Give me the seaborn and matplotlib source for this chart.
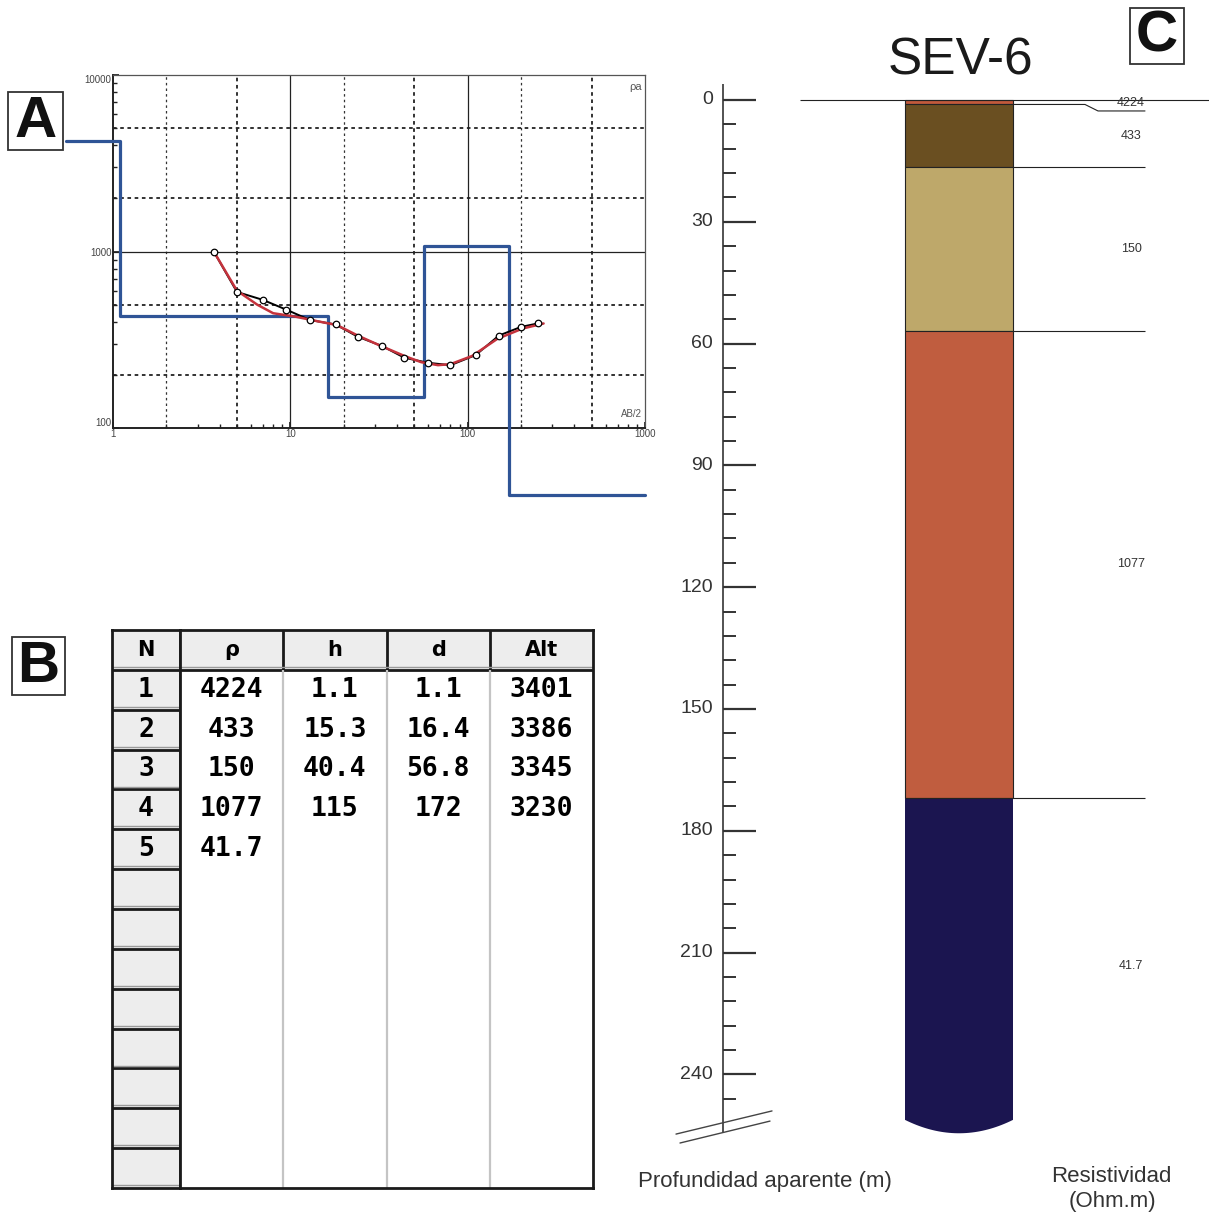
import numpy as np
import pandas as pd
import matplotlib.pyplot as plt
import seaborn as sns
from matplotlib.colors import ListedColormap
from matplotlib.patches import Rectangle, Polygon
from matplotlib.ticker import LogLocator, NullFormatter

sns.set_theme(style="white")
plt.rcParams['font.family'] = ['Liberation Sans', 'DejaVu Sans']

# --- Curva de campo (resistividad aparente vs AB/2) ---
ab2 = [3.7, 5.0, 7.0, 9.5, 12.9, 18, 24, 33, 44, 60, 80, 111, 150, 200, 248]
rho_a = [1000, 590, 532, 468, 409, 386, 329, 291, 250, 234, 227, 259, 334, 374, 391]

# --- Curva teórica del modelo ---
ab2_fit = [3.7, 5.0, 6.5, 8.0, 10.6, 14.7, 18.3, 24, 31.6, 44, 54.7, 68, 80, 106, 147, 204, 268]
rho_fit = [1000, 600, 500, 447, 428, 400, 383, 334, 295, 256, 236, 227, 230, 256, 320, 366, 391]

# --- Modelo de capas ---
capas = [1, 2, 3, 4, 5]
rho = [4224, 433, 150, 1077, 41.7]
esp = [1.1, 15.3, 40.4, 115]
prof = [1.1, 16.4, 56.8, 172]
alt = [3401, 3386, 3345, 3230]
colores = ['#c25a3c', '#6a4f21', '#bea86a', '#c05d3f', '#1b1550']

W, H = 1209, 1214
fig = plt.figure(figsize=(W / 100, H / 100), dpi=100)


def caja(x0, y0, x1, y1):
    # pixeles -> fraccion de figura
    return [x0 / W, 1 - y1 / H, (x1 - x0) / W, (y1 - y0) / H]


# ================= A: curva de sondeo =================
axA = fig.add_axes(caja(113, 75, 645, 428))
axA.set_xscale('log')
axA.set_yscale('log')
axA.set_xlim(1, 1000)
axA.set_ylim(100, 10000)

for v in [2, 20, 200]:
    axA.axvline(v, color='#333333', lw=0.9, ls=(0, (2, 2.5)), zorder=1)
for v in [5, 50, 500]:
    axA.axvline(v, color='#222222', lw=1.3, ls=(0, (2, 2)), zorder=1)
for v in [200, 500, 2000, 5000]:
    axA.axhline(v, color='#222222', lw=1.3, ls=(0, (2, 2)), zorder=1)
for v in [10, 100]:
    axA.axvline(v, color='#222222', lw=0.9, zorder=1)
axA.axhline(1000, color='#222222', lw=0.9, zorder=1)

# modelo escalonado
step_x = [0.54]
step_y = [rho[0]]
for i, z in enumerate(prof):
    step_x += [z, z]
    step_y += [rho[i], rho[i + 1]]
step_x.append(1000)
step_y.append(rho[-1])
sns.lineplot(x=step_x, y=step_y, sort=False, estimator=None, ax=axA,
             color='#2f5496', lw=2.3, clip_on=False, zorder=3)

sns.lineplot(x=ab2, y=rho_a, sort=False, estimator=None, ax=axA,
             color='black', lw=1.4, zorder=4)
sns.lineplot(x=ab2_fit, y=rho_fit, sort=False, estimator=None, ax=axA,
             color='#c4323c', lw=1.8, zorder=5)
sns.scatterplot(x=ab2, y=rho_a, ax=axA, color='white', edgecolor='black',
                s=22, linewidth=0.9, zorder=6)

axA.set_xticks([1, 10, 100, 1000])
axA.set_xticklabels(['1', '10', '100', '1000'])
axA.set_yticks([100, 1000, 10000])
axA.set_yticklabels(['100', '1000', '10000'])
axA.xaxis.set_minor_locator(LogLocator(base=10, subs=range(2, 10), numticks=20))
axA.yaxis.set_minor_locator(LogLocator(base=10, subs=range(2, 10), numticks=20))
axA.xaxis.set_minor_formatter(NullFormatter())
axA.yaxis.set_minor_formatter(NullFormatter())
axA.tick_params(which='both', bottom=True, left=True, direction='in',
                colors='#222222', labelsize=7, labelcolor='#444444', pad=1)
axA.tick_params(which='major', length=4)
axA.tick_params(which='minor', length=3)
ylabs = axA.get_yticklabels()
ylabs[0].set_va('bottom')
ylabs[-1].set_va('top')
for s in ['left', 'bottom']:
    axA.spines[s].set_color('#222222')
    axA.spines[s].set_linewidth(1.4)
for s in ['top', 'right']:
    axA.spines[s].set_color('#555555')
    axA.spines[s].set_linewidth(0.9)
axA.text(0.995, 0.965, 'ρa', transform=axA.transAxes, ha='right', va='center',
         fontsize=8, color='#555555')
axA.text(0.995, 0.04, 'AB/2', transform=axA.transAxes, ha='right', va='center',
         fontsize=7, color='#555555')

# ================= B: tabla del modelo =================
n_filas = 13
encab = ['ρ', 'h', 'd', 'Alt']
tabla = [['' for _ in range(4)] for _ in range(n_filas)]
for i, r in enumerate(rho):
    tabla[i][0] = f'{r:g}'
for i in range(len(esp)):
    tabla[i][1] = f'{esp[i]:g}'
    tabla[i][2] = f'{prof[i]:g}'
    tabla[i][3] = f'{alt[i]}'
etiq = np.array([encab] + tabla)
fondo = np.zeros((n_filas + 1, 4))
fondo[0] = 1

etiq_n = np.array([['N']] + [[str(c)] for c in capas] + [['']] * (n_filas - len(capas)))
fondo_n = np.ones((n_filas + 1, 1))

gris = ListedColormap(['white', '#ededed'])
kw_txt = dict(fontsize=19, fontweight='bold', family='DejaVu Sans Mono', color='black')

axN = fig.add_axes(caja(112, 630, 180, 1188))
sns.heatmap(fondo_n, annot=etiq_n, fmt='', cmap=gris, vmin=0, vmax=1, cbar=False,
            xticklabels=False, yticklabels=False, ax=axN, annot_kws=kw_txt)
axB = fig.add_axes(caja(180, 630, 593, 1188))
sns.heatmap(fondo, annot=etiq, fmt='', cmap=gris, vmin=0, vmax=1, cbar=False,
            xticklabels=False, yticklabels=False, ax=axB, annot_kws=kw_txt)

for ax in [axN, axB]:
    for t in ax.texts:
        if t.get_position()[1] < 1:
            t.set_family('DejaVu Sans')
            t.set_fontsize(15)
    for s in ax.spines.values():
        s.set_visible(True)
        s.set_color('#1a1a1a')
        s.set_linewidth(2)

axB.hlines(1, 0, 4, color='#1a1a1a', lw=2)
axB.vlines([1, 2, 3], 0, 1, color='#1a1a1a', lw=2)
axB.vlines([1, 2, 3], 1, n_filas + 1, color='#c4c4c4', lw=1.6)
axB.hlines(0.93, 0, 4, color='#9a9a9a', lw=1)
axN.hlines(range(1, n_filas + 1), 0, 1, color='#1a1a1a', lw=2)
axN.hlines(np.arange(1, n_filas + 2) - 0.07, 0, 1, color='#9a9a9a', lw=1)

# ================= C: columna geoeléctrica =================
px_m = 4.06   # pixeles por metro
z0 = 100      # pixel de profundidad cero
axC = fig.add_axes([650 / W, 0, 1 - 650 / W, 1])
axC.set_xlim(650, W)
axC.set_ylim((H - z0) / px_m, -z0 / px_m)
axC.axis('off')

xc, ancho = 959, 108
techos = [0] + prof
fondo_col = 251.2
for i in range(len(esp)):
    axC.bar(xc, esp[i], bottom=techos[i], width=ancho, color=colores[i],
            edgecolor='#222222', linewidth=0.8, zorder=2)
xs_arc = np.linspace(xc - ancho / 2, xc + ancho / 2, 40)
ys_arc = fondo_col + 3.3 * (1 - ((xs_arc - xc) / (ancho / 2)) ** 2)
pts = [(xc - ancho / 2, prof[-1]), (xc + ancho / 2, prof[-1])] + \
      list(zip(xs_arc[::-1], ys_arc[::-1]))
axC.add_patch(Polygon(pts, closed=True, facecolor=colores[-1], edgecolor='none', zorder=2))
axC.hlines(prof[-1], xc - ancho / 2, xc + ancho / 2, color='#222222', lw=0.8, zorder=3)

# líneas de contacto y etiquetas
axC.hlines(0, 800, W, color='#222222', lw=0.8, zorder=3)
axC.hlines(prof[1:], xc + ancho / 2, 1145, color='#222222', lw=0.8)
axC.plot([xc + ancho / 2, 1085, 1098, 1145], [prof[0], prof[0], 2.7, 2.7],
         color='#222222', lw=0.8)
axC.text(1131, 2.3, f'{rho[0]:g}', ha='center', va='bottom', fontsize=9, color='#333333')
bases = prof + [fondo_col + 3.3]
for i in range(1, len(rho)):
    zm = (techos[i] + bases[i]) / 2
    axC.text(1131, zm, f'{rho[i]:g}', ha='center', va='center', fontsize=9, color='#333333')

# escala de profundidad
axC.vlines(723, -4, 254.2, color='#444444', lw=1.3)
for z in np.arange(0, 241, 30):
    axC.hlines(z, 723, 756, color='#333333', lw=1.6)
    axC.text(713, z, f'{z}', ha='right', va='center', fontsize=14, color='#333333')
for z in np.arange(6, 250, 6):
    if z % 30:
        axC.hlines(z, 723, 736, color='#333333', lw=1.4)
axC.plot([676, 772], [254.7, 249.0], color='#444444', lw=1)
axC.plot([680, 770], [256.9, 251.5], color='#444444', lw=1)

axC.text(960, -9.5, 'SEV-6', ha='center', va='center', fontsize=37,
         color='#1a1a1a')

# ================= etiquetas de panel y textos =================
deco = fig.add_axes([0, 0, 1, 1])
deco.set_xlim(0, W)
deco.set_ylim(H, 0)
deco.axis('off')
for letra, (x0, y0, x1, y1) in {'A': (8, 92, 63, 150), 'B': (12, 637, 65, 695),
                                'C': (1130, 8, 1184, 64)}.items():
    deco.add_patch(Rectangle((x0, y0), x1 - x0, y1 - y0, fill=False,
                             edgecolor='#333333', lw=1.3))
    deco.text((x0 + x1) / 2, (y0 + y1) / 2 + 1, letra, ha='center', va='center',
              fontsize=42, fontweight='bold', color='#111111')

deco.text(765, 1182, 'Profundidad aparente (m)', ha='center', va='center',
          fontsize=16, color='#333333')
deco.text(1111, 1177, 'Resistividad', ha='center', va='center', fontsize=16, color='#333333')
deco.text(1112, 1202, '(Ohm.m)', ha='center', va='center', fontsize=16, color='#333333')

fig.savefig('out.png', dpi=100)
